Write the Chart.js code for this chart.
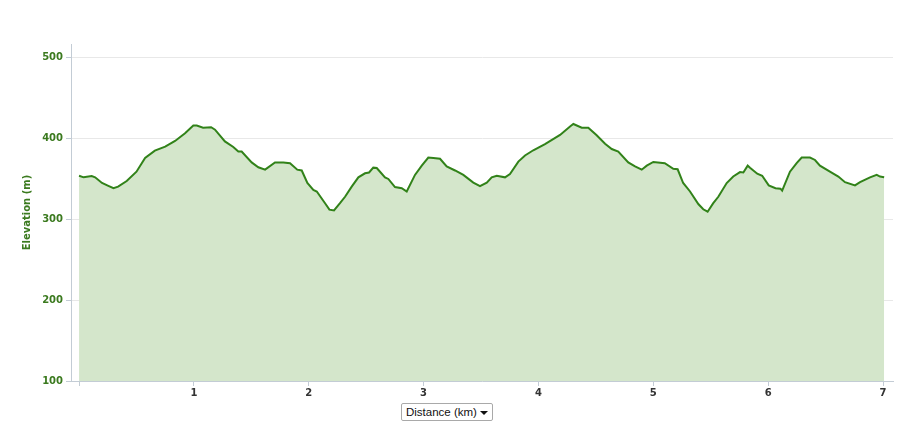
<!DOCTYPE html>
<html>
<head>
<meta charset="utf-8">
<script src="https://cdn.jsdelivr.net/npm/chart.js@4.4.1/dist/chart.umd.min.js"></script>
<style>
    body { margin: 0; background: #fff; }
    #wrap { position: relative; width: 914px; height: 425px; }
    #picker {
        position: absolute; left: 401px; top: 403px; width: 86px; height: 16px;
        border: 1px solid #a9a9a9; border-radius: 2px; background: #fff;
        font: 11.5px "Liberation Sans", Arial, sans-serif; color: #111; line-height: 16px;
        padding-left: 4px; box-sizing: content-box;
    }
    #picker .arrow {
        position: absolute; right: 4px; top: 7px; width: 0; height: 0;
        border-left: 4px solid transparent; border-right: 4px solid transparent;
        border-top: 4px solid #111;
    }
</style>
</head>
<body>
<div id="wrap">
    <canvas id="elev"></canvas>
    <div id="picker">Distance (km)<span class="arrow"></span></div>
</div>
<script>
const distanceKm = [
    0.00, 0.04, 0.11, 0.14, 0.20, 0.255, 0.30, 0.34, 0.415, 0.50,
    0.575, 0.66, 0.75, 0.836, 0.923, 0.995, 1.025, 1.08, 1.15, 1.184,
    1.27, 1.343, 1.387, 1.416, 1.503, 1.561, 1.62, 1.706, 1.779, 1.837,
    1.90, 1.939, 1.988, 2.04, 2.07, 2.142, 2.18, 2.22, 2.272, 2.316,
    2.374, 2.432, 2.49, 2.525, 2.562, 2.592, 2.664, 2.693, 2.751, 2.81,
    2.853, 2.925, 2.984, 3.041, 3.085, 3.143, 3.201, 3.274, 3.346, 3.433,
    3.491, 3.55, 3.593, 3.637, 3.709, 3.752, 3.825, 3.883, 3.955, 4.057,
    4.188, 4.275, 4.304, 4.377, 4.434, 4.507, 4.58, 4.638, 4.695, 4.782,
    4.841, 4.899, 4.943, 5.0, 5.1, 5.174, 5.212, 5.26, 5.32, 5.392,
    5.435, 5.473, 5.522, 5.566, 5.639, 5.696, 5.755, 5.784, 5.822, 5.842,
    5.905, 5.948, 6.005, 6.064, 6.107, 6.122, 6.19, 6.248, 6.292, 6.364,
    6.408, 6.451, 6.538, 6.611, 6.669, 6.756, 6.80, 6.887, 6.945, 6.974,
    7.01
];

const elevationM = [
    354, 352, 353.5, 352, 345, 341.5, 338.5, 340.5, 347.5, 359,
    376, 385, 390, 397, 406.5, 416, 416, 413.5, 414, 411,
    396.5, 389.5, 384, 384, 370.5, 364.5, 361.5, 370.5, 370.5, 369.5,
    361.5, 360.5, 345, 336.5, 334.5, 320, 312, 311, 320, 328,
    340.5, 352, 357, 358, 364, 363.5, 352, 350, 340, 338.5,
    334.5, 355, 366.5, 376.5, 376, 375, 365.5, 360.5, 355, 345.5,
    341, 345.5, 352, 354, 352, 356, 371.5, 379, 385.5, 393,
    404.5, 415, 418, 413.5, 413.5, 404, 393.5, 387, 384, 370.5,
    365.5, 361.5, 366.5, 371, 369.5, 362.5, 362, 345, 334.5, 319,
    312.5, 309.5, 320, 328, 345, 353, 358.5, 358, 366.5, 364,
    356.5, 354, 342, 338.5, 338, 335.5, 359, 369.5, 376.5, 376.5,
    373.5, 366.5, 359, 353, 346, 342, 346, 352, 355, 353,
    352
];

const distanceTicks = [0, 1, 2, 3, 4, 5, 6, 7];
const elevationTicks = [100, 200, 300, 400, 500];

const labelFont = { family: "DejaVu Sans", size: 10, weight: "bold" };

new Chart(document.getElementById("elev"), {
    type: "line",
    data: {
        datasets: [{
            label: "Elevation",
            data: distanceKm.map((d, i) => ({ x: d, y: elevationM[i] })),
            borderColor: "#318219",
            backgroundColor: "#d4e6cb",
            borderWidth: 2,
            fill: "start",
            tension: 0,
            pointRadius: 0
        }]
    },
    options: {
        responsive: true,
        maintainAspectRatio: false,
        animation: false,
        devicePixelRatio: 1,
        layout: { padding: { top: 44, right: 21, left: 0, bottom: 0 } },
        plugins: { legend: { display: false }, tooltip: { enabled: false } },
        scales: {
            x: {
                type: "linear",
                min: -0.07,
                max: 7.087,
                afterBuildTicks: (s) => { s.ticks = distanceTicks.map(v => ({ value: v })); },
                afterFit: (s) => { s.height = 44; },
                ticks: {
                    callback: (v) => (v === 0 ? "" : v),
                    color: "#333",
                    font: labelFont,
                    padding: 1,
                    maxRotation: 0
                },
                grid: {
                    drawOnChartArea: false,
                    tickLength: 5,
                    tickColor: "#c3ccd5"
                },
                border: { color: "#c3ccd5", width: 1 }
            },
            y: {
                min: 100,
                max: 517,
                afterBuildTicks: (s) => { s.ticks = elevationTicks.map(v => ({ value: v })); },
                afterFit: (s) => { s.width = 71; },
                ticks: {
                    color: "#3b7a1f",
                    font: labelFont,
                    padding: 3
                },
                grid: {
                    color: "#e8e8e8",
                    tickLength: 5,
                    tickColor: "#c3ccd5"
                },
                border: { color: "#c3ccd5", width: 1 },
                title: {
                    display: true,
                    text: "Elevation (m)",
                    color: "#3b7a1f",
                    font: { family: "DejaVu Sans", size: 10, weight: "bold" },
                    padding: { top: 21, bottom: 0 }
                }
            }
        }
    }
});
</script>
</body>
</html>
